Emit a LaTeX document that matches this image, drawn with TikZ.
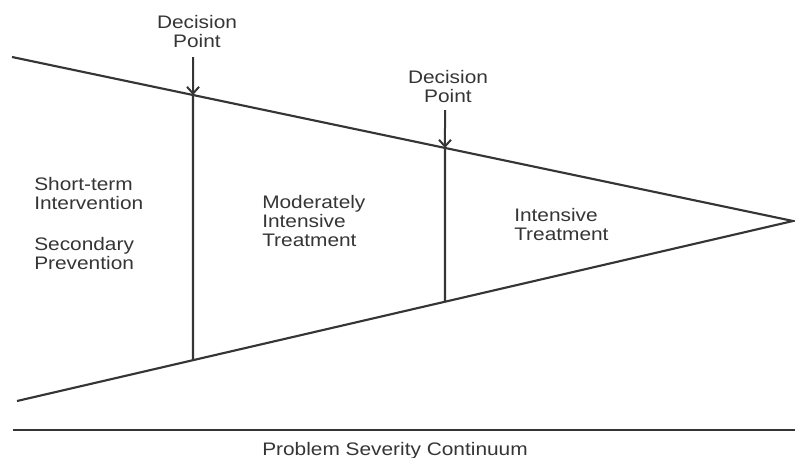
\documentclass[tikz,border=0pt]{standalone}
\usepackage{fontspec}
\setmainfont[FakeStretch=1.15]{Liberation Sans}
\usetikzlibrary{arrows.meta, calc, positioning}
\definecolor{ink}{HTML}{353535}

\begin{document}
\begin{tikzpicture}[
    x=0.75pt, y=-0.75pt,
    edge/.style={draw=ink, line width=1.6pt},
    pointer/.style={draw=ink, line width=1.5pt, -{Straight Barb[length=5pt, width=9pt, line width=1.5pt]}},
    label/.style={text=ink, inner sep=0pt, align=center, font=\fontsize{13.6}{14.3}\selectfont},
    zone/.style={text=ink, inner sep=0pt, align=left, anchor=north west, font=\fontsize{13.6}{14.3}\selectfont}
]
\useasboundingbox (0,0) rectangle (795,457);

% Funnel
\coordinate (topL) at (12,57);
\coordinate (botL) at (17,401);
\coordinate (apex) at (793,221);
\draw [edge, line join=miter] (topL) -- (apex) -- (botL);

% Decision points on the funnel
\coordinate (dp1top) at ($(topL)!0.2318!(apex)$);
\coordinate (dp1bot) at ($(botL)!0.2268!(apex)$);
\coordinate (dp2top) at ($(topL)!0.5544!(apex)$);
\coordinate (dp2bot) at ($(botL)!0.5515!(apex)$);
\draw [edge] (dp1top) -- (dp1bot);
\draw [edge] (dp2top) -- (dp2bot);

% Labels
\node (dp1lbl) [label, anchor=north] at (197,15) {Decision\\Point};
\node (dp2lbl) [label, anchor=north] at (448,70) {Decision\\Point};
\coordinate (arr1) at (193,57);
\coordinate (arr2) at (445,110);
\draw [pointer] (arr1) -- (dp1top);
\draw [pointer] (arr2) -- (dp2top);

\node (short) [zone] at (34,177) {Short-term\\Intervention};
\node (second) [zone] at (34,237) {Secondary\\Prevention};
\node (moder) [zone] at (262,195) {Moderately\\Intensive\\Treatment};
\node (intens) [zone] at (514,208) {Intensive\\Treatment};

% Axis
\coordinate (axisL) at (13,430);
\coordinate (axisR) at (795,430);
\draw [edge] (axisL) -- (axisR);
\node (axislbl) [label, anchor=base] at (395,455) {Problem Severity Continuum};

\end{tikzpicture}
\end{document}
